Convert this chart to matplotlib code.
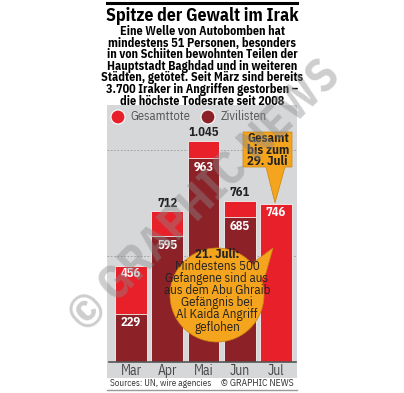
import matplotlib.pyplot as plt
from matplotlib.patches import Rectangle, Circle, Polygon

# Monthly deaths in Iraq 2013
months = ["Mar", "Apr", "Mai", "Jun", "Jul"]
total = [456, 712, 1045, 761, 746]
civilians = [229, 595, 963, 685, None]
total_labels = ["456", "712", "1.045", "761", "746"]

subtitle = ["Eine Welle von Autobomben hat",
            "mindestens 51 Personen, besonders",
            "in von Schiiten bewohnten Teilen der",
            "Hauptstadt Baghdad und in weiteren",
            "Städten, getötet. Seit März sind bereits",
            "3.700 Iraker in Angriffen gestorben –",
            "die höchste Todesrate seit 2008"]
bubble = ["Mindestens 500", "Gefangene sind aus", "aus dem Abu Ghraib",
          "Gefängnis bei", "Al Kaida Angriff", "geflohen"]

RED = "#e8202a"
DARK = "#8c2128"
BG = "#d6d7d9"
ORANGE = "#f5a41d"
NARROW = ["IBM Plex Sans Condensed", "DejaVu Sans"]

W, H = 404, 393
fig = plt.figure(figsize=(W / 100, H / 100), dpi=100)
fig.patch.set_facecolor("white")

# pixel overlay axes for decoration
deco = fig.add_axes([0, 0, 1, 1], zorder=0)
deco.set_xlim(0, W)
deco.set_ylim(H, 0)
deco.axis("off")
deco.add_patch(Rectangle((107, 105), 190, 273, color=BG, lw=0))
deco.plot([107, 297], [3, 3], color="black", lw=2.2)
deco.plot([107, 297], [390, 390], color="#999999", lw=1)

deco.text(202, 16, "Spitze der Gewalt im Irak", ha="center", va="center",
          fontsize=12.8, fontweight="bold", family=NARROW)
for k, line in enumerate(subtitle):
    deco.text(202, 31.5 + 11.6 * k, line, ha="center", va="center", fontsize=8.7,
              fontweight="bold", family=NARROW)

# legend
deco.add_patch(Circle((118, 117), 7, color=RED, ec="white", lw=0.8))
deco.text(130, 117, "Gesamttote", va="center", fontsize=9, color="#555555", family=NARROW)
deco.add_patch(Circle((208, 117), 7, color=DARK, ec="white", lw=0.8))
deco.text(221, 117, "Zivilisten", va="center", fontsize=9, color="#555555", family=NARROW)

deco.text(110, 383, "Sources: UN, wire agencies", va="center", fontsize=6.6,
          color="#333333", family=NARROW)
deco.text(294, 383, "© GRAPHIC NEWS", va="center", ha="right", fontsize=7,
          color="#333333", family=NARROW)

# bar chart axes
ax = fig.add_axes([107 / W, (H - 362) / H, 190 / W, 255 / H], zorder=1)
ax.patch.set_alpha(0)
ax.set_xlim(-0.662, 4.58)
ax.set_ylim(0, 1205)
for s in ax.spines.values():
    s.set_visible(False)
ax.set_yticks([])
ax.set_xticks([])
for g in [500, 1000]:
    ax.axhline(g, color="#9a9a9a", lw=0.6, ls=(0, (2, 2)), zorder=0)

x = list(range(len(months)))
ax.bar(x, total, width=0.88, color=RED, edgecolor="#f2f2f2", lw=0.6, zorder=2)
civ_x = [i for i, c in enumerate(civilians) if c is not None]
civ_v = [c for c in civilians if c is not None]
ax.bar(civ_x, civ_v, width=0.88, color=DARK, edgecolor="#f2f2f2", lw=0.6, zorder=3)
ax.plot([-0.6, 4.55], [0, 0], color="#555555", lw=1.2, clip_on=False, zorder=4)

for i, m in enumerate(months):
    ax.annotate(m, (i, 0), xytext=(0, -9), textcoords="offset pixels", ha="center",
                va="center", fontsize=9.8, color="#444444", family=NARROW)
    inside = i in (0, 4)
    ax.annotate(total_labels[i], (i, total[i]), xytext=(0, -8 if inside else 8),
                textcoords="offset pixels", ha="center", va="center", fontsize=9,
                fontweight="bold", color="white" if inside else "#222222",
                family=NARROW, zorder=5)
    if civilians[i] is not None:
        ax.annotate(str(civilians[i]), (i, civilians[i]), xytext=(0, -9),
                    textcoords="offset pixels", ha="center", va="center", fontsize=9,
                    fontweight="bold", color="white", family=NARROW, zorder=5)

# callouts on top
top = fig.add_axes([0, 0, 1, 1], zorder=2)
top.set_xlim(0, W)
top.set_ylim(H, 0)
top.axis("off")
top.add_patch(Polygon([(243, 132), (292, 132), (292, 167), (285, 167), (275, 203),
                       (266, 167), (243, 167)], closed=True, fc=ORANGE, ec="#c98410", lw=0.5))
for k, line in enumerate(["Gesamt", "bis zum", "29. Juli"]):
    top.text(247, 138.5 + 11.5 * k, line, va="center", ha="left", fontsize=9.2,
             fontweight="bold", color="#222222", family=NARROW)
top.add_patch(Polygon([(254, 262), (273, 248), (264, 280)], closed=True, fc=ORANGE,
                      ec="#c98410", lw=0.5))
top.add_patch(Circle((217, 295), 47, fc=ORANGE, ec="#c98410", lw=0.5))
top.add_patch(Polygon([(253, 265), (272, 249.5), (262, 278)], closed=True, fc=ORANGE, lw=0))
top.text(217, 254, "21. Juli:", ha="center", va="center", fontsize=9.2,
         fontweight="bold", color="#222222", family=NARROW)
for k, line in enumerate(bubble):
    top.text(217, 266.5 + 12.1 * k, line, ha="center", va="center", fontsize=9.4,
             color="#222222", family=NARROW)

# watermark
top.text(205, 196, "© GRAPHIC NEWS", ha="center", va="center", rotation=45,
         fontsize=33, fontweight="bold", color="#8a8a8a", alpha=0.42, family=NARROW)

fig.savefig("out.png", dpi=100)
